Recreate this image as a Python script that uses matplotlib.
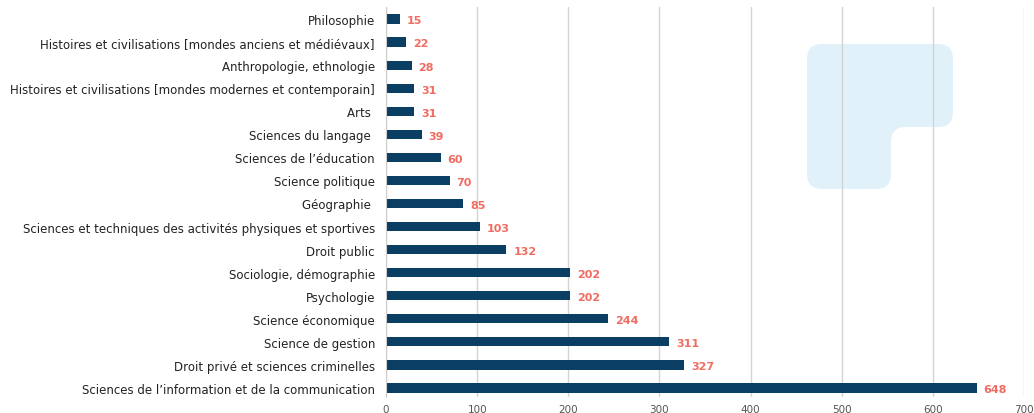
import matplotlib
matplotlib.use('Agg')
import matplotlib.pyplot as plt
from matplotlib.path import Path
from matplotlib.patches import PathPatch

plt.rcParams['font.family'] = ['DejaVu Sans']

# Disciplines, top to bottom
disciplines = [
    'Philosophie',
    'Histoires et civilisations [mondes anciens et médiévaux]',
    'Anthropologie, ethnologie',
    'Histoires et civilisations [mondes modernes et contemporain]',
    'Arts ',
    'Sciences du langage ',
    'Sciences de l’éducation',
    'Science politique',
    'Géographie ',
    'Sciences et techniques des activités physiques et sportives',
    'Droit public',
    'Sociologie, démographie',
    'Psychologie',
    'Science économique',
    'Science de gestion',
    'Droit privé et sciences criminelles',
    'Sciences de l’information et de la communication',
]
counts = [15, 22, 28, 31, 31, 39, 60, 70, 85, 103, 132, 202, 202, 244, 311, 327, 648]
xticks = [0, 100, 200, 300, 400, 500, 600, 700]

W, H = 1034, 414
fig = plt.figure(figsize=(W / 100, H / 100), dpi=100)
ax = fig.add_axes([386 / W, 1 - 398 / H, (1024 - 386) / W, (398 - 8) / H])

# decorative background shape (rounded L), in pixel coords -> figure fraction
def rounded_poly(pts, r):
    verts, codes = [], []
    n = len(pts)
    for i in range(n):
        p0 = pts[i - 1]
        p1 = pts[i]
        p2 = pts[(i + 1) % n]
        def toward(a, b, d):
            dx, dy = b[0] - a[0], b[1] - a[1]
            L = (dx ** 2 + dy ** 2) ** 0.5
            return (a[0] + dx / L * d, a[1] + dy / L * d)
        a = toward(p1, p0, r)
        b = toward(p1, p2, r)
        verts += [a, p1, b]
        codes += [Path.MOVETO if i == 0 else Path.LINETO, Path.CURVE3, Path.CURVE3]
    verts.append(verts[0])
    codes.append(Path.CLOSEPOLY)
    verts = [(x / W, 1 - y / H) for x, y in verts]
    return Path(verts, codes)

shape = [(807, 45), (953, 45), (953, 128), (891, 128), (891, 190), (807, 190)]
ax.add_patch(PathPatch(rounded_poly(shape, 15), facecolor='#e1f1fa', edgecolor='none',
                       transform=fig.transFigure, zorder=0))

y = list(range(len(disciplines)))
ax.barh(y, counts, height=0.4, color='#0b3e63', zorder=2)

for yi, v in zip(y, counts):
    ax.annotate(str(v), (v, yi), xytext=(5, -1), textcoords='offset points',
                va='center', ha='left', color='#f26b60', fontsize=8, fontweight='bold')

ax.set_yticks(y)
ax.set_yticklabels(disciplines, fontsize=8.5, color='#222222')
ax.set_ylim(16.39, -0.52)
ax.set_xlim(0, 700)
ax.set_xticks(xticks)
ax.set_xticklabels([str(t) for t in xticks], fontsize=7.5, color='#555555')

ax.tick_params(axis='y', length=0, pad=8)
ax.tick_params(axis='x', length=0, pad=5)
ax.set_axisbelow(True)
ax.grid(axis='x', color='#d3d3d3', linewidth=1.0)
ax.set_facecolor('none')
for s in ['top', 'right', 'bottom']:
    ax.spines[s].set_visible(False)
ax.spines['left'].set_color('#cccccc')

fig.savefig('out.png', dpi=100)
